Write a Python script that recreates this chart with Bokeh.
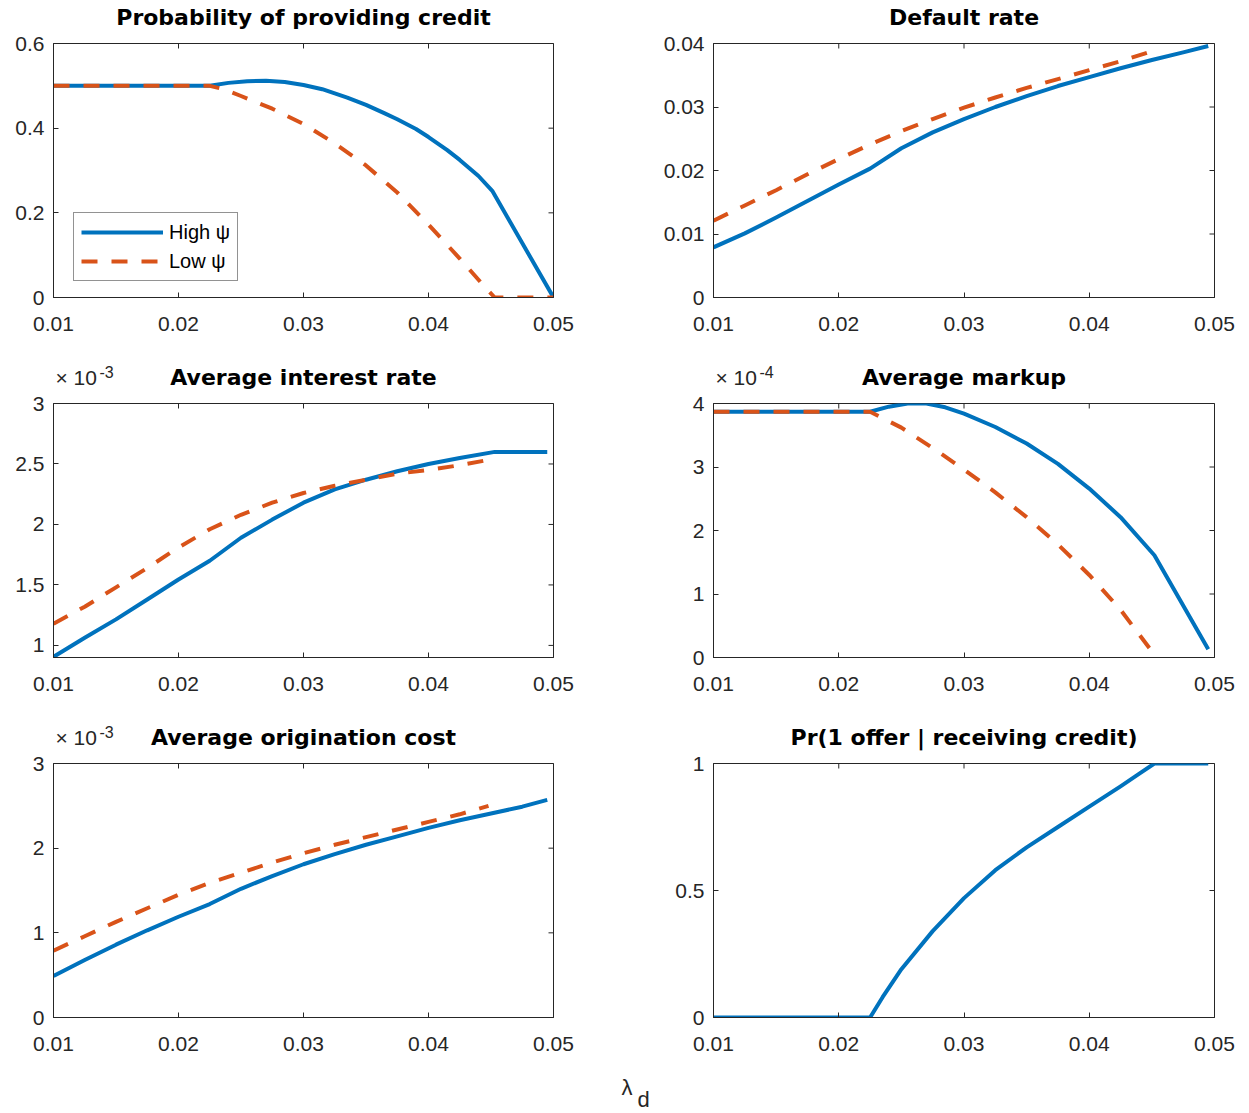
import math
from bokeh.plotting import figure
from bokeh.models import Range1d, FixedTicker, Label, Legend, CustomJSTickFormatter
from bokeh.layouts import column, row
from bokeh.embed import file_html
from bokeh.resources import INLINE

# ---------------- data ----------------
x_ticks = [0.01, 0.02, 0.03, 0.04, 0.05]
x_tick_labels = ["0.01", "0.02", "0.03", "0.04", "0.05"]
x_label_main = "λ"
x_label_sub = "d"

titles = ["Probability of providing credit", "Default rate",
          "Average interest rate", "Average markup",
          "Average origination cost", "Pr(1 offer | receiving credit)"]
series_names = ["High ψ", "Low ψ"]

# Probability of providing credit
credit_high_x = [0.01, 0.0225, 0.024, 0.0255, 0.027, 0.0285, 0.03, 0.0315, 0.0335, 0.035, 0.0365, 0.0375, 0.039, 0.04, 0.0415, 0.0425, 0.044, 0.0451, 0.05]
credit_high_y = [0.5, 0.5, 0.507, 0.511, 0.512, 0.509, 0.502, 0.492, 0.472, 0.455, 0.435, 0.421, 0.398, 0.379, 0.348, 0.325, 0.287, 0.252, 0.0]
credit_low_x = [0.01, 0.0225, 0.0235, 0.025, 0.0275, 0.03, 0.0325, 0.035, 0.0375, 0.04, 0.0425, 0.0445, 0.0453, 0.05]
credit_low_y = [0.5, 0.5, 0.493, 0.476, 0.446, 0.41, 0.364, 0.312, 0.248, 0.172, 0.092, 0.025, 0.0, 0.0]
credit_yticks = [0, 0.2, 0.4, 0.6]
credit_ylabels = ["0", "0.2", "0.4", "0.6"]

# Default rate
default_high_x = [0.01, 0.0125, 0.015, 0.0175, 0.02, 0.0225, 0.025, 0.0275, 0.03, 0.0325, 0.035, 0.0375, 0.04, 0.0425, 0.045, 0.0475, 0.0495]
default_high_y = [0.0079, 0.0101, 0.0126, 0.0152, 0.0178, 0.0203, 0.0235, 0.0260, 0.0281, 0.0300, 0.0317, 0.0333, 0.0347, 0.0361, 0.0374, 0.0386, 0.0396]
default_low_x = [0.01, 0.0125, 0.015, 0.0175, 0.02, 0.0225, 0.025, 0.0275, 0.03, 0.0325, 0.035, 0.0375, 0.04, 0.0425, 0.0447]
default_low_y = [0.0121, 0.0145, 0.0169, 0.0194, 0.0218, 0.0241, 0.0262, 0.0281, 0.0299, 0.0315, 0.0330, 0.0344, 0.0358, 0.0372, 0.0386]
default_yticks = [0, 0.01, 0.02, 0.03, 0.04]
default_ylabels = ["0", "0.01", "0.02", "0.03", "0.04"]

# Average interest rate (x 1e-3)
interest_high_x = [0.01, 0.0125, 0.015, 0.0175, 0.02, 0.0225, 0.025, 0.0275, 0.03, 0.0325, 0.035, 0.0375, 0.04, 0.0425, 0.0453, 0.0475, 0.0495]
interest_high_y = [0.905, 1.063, 1.215, 1.38, 1.545, 1.70, 1.89, 2.04, 2.18, 2.29, 2.37, 2.44, 2.50, 2.55, 2.60, 2.60, 2.60]
interest_low_x = [0.01, 0.0125, 0.015, 0.0175, 0.02, 0.0225, 0.025, 0.0275, 0.03, 0.0325, 0.035, 0.0375, 0.04, 0.0425, 0.0446]
interest_low_y = [1.18, 1.32, 1.48, 1.64, 1.81, 1.96, 2.08, 2.18, 2.26, 2.32, 2.37, 2.42, 2.45, 2.49, 2.53]
interest_yticks = [1, 1.5, 2, 2.5, 3]
interest_ylabels = ["1", "1.5", "2", "2.5", "3"]
interest_exp = "-3"

# Average markup (x 1e-4)
markup_high_x = [0.01, 0.0225, 0.024, 0.0255, 0.027, 0.0285, 0.03, 0.0325, 0.035, 0.0375, 0.04, 0.0425, 0.0452, 0.0495]
markup_high_y = [3.87, 3.87, 3.95, 4.00, 4.00, 3.94, 3.84, 3.63, 3.37, 3.05, 2.66, 2.21, 1.61, 0.13]
markup_low_x = [0.01, 0.0225, 0.025, 0.0275, 0.03, 0.0325, 0.035, 0.0375, 0.04, 0.0425, 0.0448]
markup_low_y = [3.87, 3.87, 3.62, 3.30, 2.96, 2.60, 2.21, 1.78, 1.30, 0.75, 0.15]
markup_yticks = [0, 1, 2, 3, 4]
markup_ylabels = ["0", "1", "2", "3", "4"]
markup_exp = "-4"

# Average origination cost (x 1e-3)
orig_high_x = [0.01, 0.0125, 0.015, 0.0175, 0.02, 0.0225, 0.025, 0.0275, 0.03, 0.0325, 0.035, 0.0375, 0.04, 0.0425, 0.045, 0.0475, 0.0495]
orig_high_y = [0.49, 0.68, 0.86, 1.03, 1.19, 1.34, 1.52, 1.67, 1.81, 1.93, 2.04, 2.14, 2.24, 2.33, 2.41, 2.49, 2.57]
orig_low_x = [0.01, 0.0125, 0.015, 0.0175, 0.02, 0.0225, 0.025, 0.0275, 0.03, 0.0325, 0.035, 0.0375, 0.04, 0.0425, 0.0448]
orig_low_y = [0.79, 0.96, 1.13, 1.29, 1.45, 1.59, 1.71, 1.83, 1.94, 2.04, 2.13, 2.22, 2.31, 2.40, 2.50]
orig_yticks = [0, 1, 2, 3]
orig_ylabels = ["0", "1", "2", "3"]
orig_exp = "-3"

# Pr(1 offer | receiving credit)
offer_x = [0.01, 0.0225, 0.0235, 0.025, 0.0275, 0.03, 0.0325, 0.035, 0.0375, 0.04, 0.0425, 0.044, 0.0452, 0.0495]
offer_y = [0, 0, 0.08, 0.19, 0.34, 0.47, 0.58, 0.67, 0.75, 0.83, 0.91, 0.96, 1.0, 1.0]
offer_yticks = [0, 0.5, 1]
offer_ylabels = ["0", "0.5", "1"]

# ---------------- style / layout ----------------
BLUE = "#0072BD"
ORANGE = "#D95319"
AX = "#262626"
FONT = "Liberation Sans"
TFONT = "DejaVu Sans"
DASH = "16 14"
LW = 4

FH = 254
L1, FW1, R1 = 53, 500, 100          # left column figure borders
L2, FW2, R2 = 60, 501, 24           # right column figure borders
W_LEFT = L1 + FW1 + R1
W_RIGHT = L2 + FW2 + R2
TOTAL_W = W_LEFT + W_RIGHT
TOP = 12
CX_LEFT = L1 + FW1 / 2
CX_RIGHT = W_LEFT + L2 + FW2 / 2
EX_LEFT = L1 + 2
EX_RIGHT = W_LEFT + L2 + 2

FMT = CustomJSTickFormatter(code="return String(tick)")


def style_axis(ax, ticks, labels, standoff):
    ax.ticker = FixedTicker(ticks=ticks)
    ax.formatter = FMT
    ax.major_label_overrides = dict(zip(ticks, labels))
    ax.major_tick_in = 5
    ax.major_tick_out = 0
    ax.minor_tick_in = 0
    ax.minor_tick_out = 0
    ax.major_tick_line_color = AX
    ax.axis_line_color = AX
    ax.major_label_text_color = AX
    ax.major_label_text_font = FONT
    ax.major_label_text_font_size = "21px"
    ax.major_label_standoff = standoff


def make_panel(ystart, yend, yticks, ylabels, left, fw, right, bottom):
    p = figure(frame_width=fw, frame_height=FH,
               x_range=Range1d(0.01, 0.05), y_range=Range1d(ystart, yend),
               toolbar_location=None, output_backend="svg",
               min_border_left=left, min_border_right=right,
               min_border_top=TOP, min_border_bottom=bottom,
               background_fill_color="white", border_fill_color="white")
    p.xgrid.visible = False
    p.ygrid.visible = False
    p.outline_line_color = AX
    p.outline_line_width = 1
    style_axis(p.xaxis[0], x_ticks, x_tick_labels, 19)
    style_axis(p.yaxis[0], yticks, ylabels, 9)
    # inward tick marks on the top and right edges of the box (half clipped by the frame)
    p.scatter(x_ticks, [yend] * len(x_ticks), marker="dash", size=10, angle=math.pi / 2,
              line_color=AX, line_width=1)
    p.scatter([0.05] * len(yticks), yticks, marker="dash", size=10,
              line_color=AX, line_width=1)
    return p


def strip(h):
    s = figure(width=TOTAL_W, height=h, x_range=Range1d(0, TOTAL_W), y_range=Range1d(h, 0),
               toolbar_location=None, output_backend="svg",
               x_axis_type=None, y_axis_type=None, min_border=0,
               min_border_left=0, min_border_right=0, min_border_top=0, min_border_bottom=0,
               background_fill_color="white", border_fill_color="white")
    s.outline_line_color = None
    return s


def title_label(s, text, cx, base):
    s.add_layout(Label(x=cx, y=base, text=text, text_font=TFONT, text_font_style="bold",
                       text_font_size="22px", text_color="black",
                       text_align="center", text_baseline="alphabetic"))


def exponent(s, x0, base, power):
    s.add_layout(Label(x=x0, y=base, text="× 10", text_font=FONT, text_font_size="21px",
                       text_color=AX, text_align="left", text_baseline="alphabetic"))
    s.add_layout(Label(x=x0 + 44, y=base - 6, text=power, text_font=FONT, text_font_size="16px",
                       text_color=AX, text_align="left", text_baseline="alphabetic"))


# ---- row 1 ----
s0 = strip(31)
title_label(s0, titles[0], CX_LEFT, 17)
title_label(s0, titles[1], CX_RIGHT, 17)

p1 = make_panel(0, 0.6, credit_yticks, credit_ylabels, L1, FW1, R1, 48)
a1 = p1.line(credit_high_x, credit_high_y, line_color=BLUE, line_width=LW, line_join="round")
b1 = p1.line(credit_low_x, credit_low_y, line_color=ORANGE, line_width=LW, line_dash=DASH)
legend = Legend(items=[(series_names[0], [a1]), (series_names[1], [b1])], location=(20, 16),
                label_text_font=FONT, label_text_font_size="20px", label_text_color="black",
                glyph_width=82, glyph_height=24, label_height=24, label_standoff=6,
                spacing=5, padding=7, margin=0,
                border_line_color=AX, border_line_width=1,
                background_fill_color="white", background_fill_alpha=1)
p1.add_layout(legend)

p2 = make_panel(0, 0.04, default_yticks, default_ylabels, L2, FW2, R2, 48)
p2.line(default_high_x, default_high_y, line_color=BLUE, line_width=LW, line_join="round")
p2.line(default_low_x, default_low_y, line_color=ORANGE, line_width=LW, line_dash=DASH)

# ---- row 2 ----
s1 = strip(46)
title_label(s1, titles[2], CX_LEFT, 32)
title_label(s1, titles[3], CX_RIGHT, 32)
exponent(s1, EX_LEFT, 32, interest_exp)
exponent(s1, EX_RIGHT, 32, markup_exp)

p3 = make_panel(0.9, 3, interest_yticks, interest_ylabels, L1, FW1, R1, 48)
p3.line(interest_high_x, interest_high_y, line_color=BLUE, line_width=LW, line_join="round")
p3.line(interest_low_x, interest_low_y, line_color=ORANGE, line_width=LW, line_dash=DASH)

p4 = make_panel(0, 4, markup_yticks, markup_ylabels, L2, FW2, R2, 48)
p4.line(markup_high_x, markup_high_y, line_color=BLUE, line_width=LW, line_join="round")
p4.line(markup_low_x, markup_low_y, line_color=ORANGE, line_width=LW, line_dash=DASH)

# ---- row 3 ----
s2 = strip(46)
title_label(s2, titles[4], CX_LEFT, 32)
title_label(s2, titles[5], CX_RIGHT, 32)
exponent(s2, EX_LEFT, 32, orig_exp)

p5 = make_panel(0, 3, orig_yticks, orig_ylabels, L1, FW1, R1, 44)
p5.line(orig_high_x, orig_high_y, line_color=BLUE, line_width=LW, line_join="round")
p5.line(orig_low_x, orig_low_y, line_color=ORANGE, line_width=LW, line_dash=DASH)

p6 = make_panel(0, 1, offer_yticks, offer_ylabels, L2, FW2, R2, 44)
p6.line(offer_x, offer_y, line_color=BLUE, line_width=LW, line_join="round")

# ---- x-axis label strip ----
s3 = strip(50)
s3.add_layout(Label(x=621, y=26, text=x_label_main, text_font=FONT, text_font_size="22px",
                    text_color=AX, text_align="left", text_baseline="alphabetic"))
s3.add_layout(Label(x=637, y=38, text=x_label_sub, text_font=FONT, text_font_size="22px",
                    text_color=AX, text_align="left", text_baseline="alphabetic"))

layout = column(s0, row(p1, p2), s1, row(p3, p4), s2, row(p5, p6), s3)

open("out.html", "w").write(file_html(layout, INLINE))
